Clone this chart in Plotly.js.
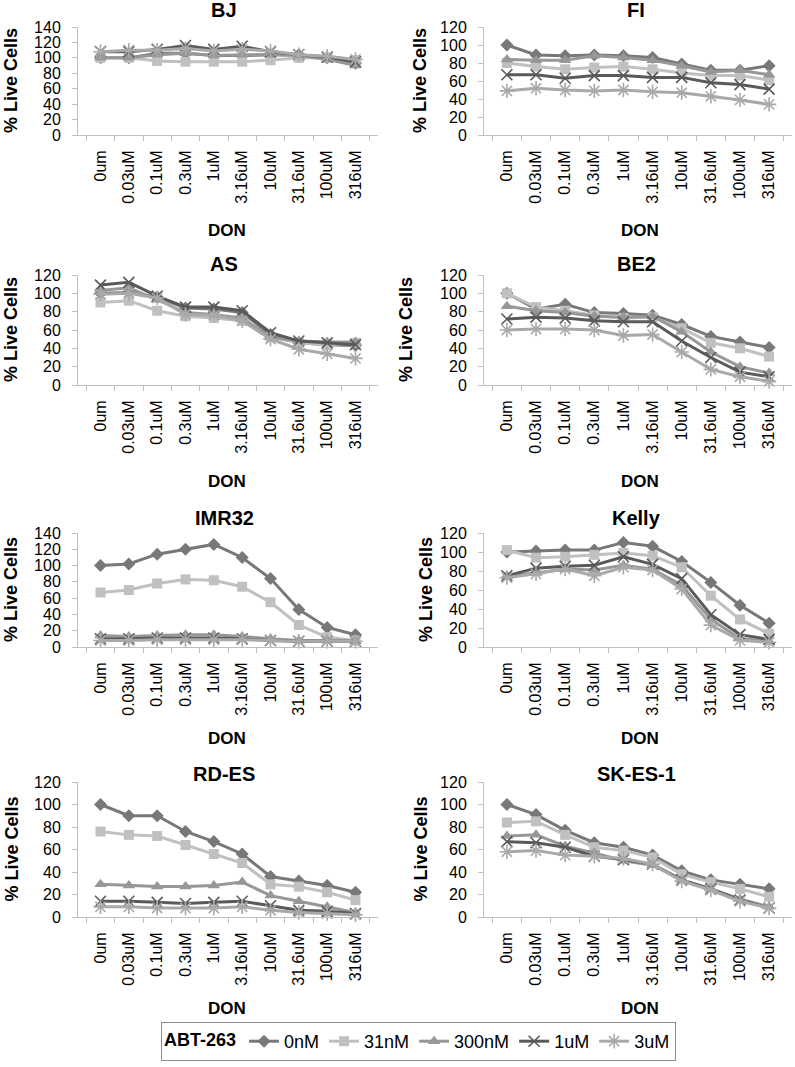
<!DOCTYPE html>
<html><head><meta charset="utf-8">
<script src="https://cdn.plot.ly/plotly-3.0.1.min.js"></script>
<style>html,body{margin:0;padding:0;background:#fff}#chart{width:795px;height:1067px}</style>
</head><body><div id="chart"></div>
<script>
// ---------- DATA ----------
const categories = ['0um','0.03uM','0.1uM','0.3uM','1uM','3.16uM','10uM','31.6uM','100uM','316uM'];
const seriesNames = ['0nM','31nM','300nM','1uM','3uM'];
const panelTitles = ['BJ','FI','AS','BE2','IMR32','Kelly','RD-ES','SK-ES-1'];
const yMax = [140,120,120,120,140,120,120,120];
// rows: 0nM, 31nM, 300nM, 1uM, 3uM
const bj = [
  [100,100,106,106,103,103,104,104,100,93],
  [100,100,96,95,95,95,97,100,100,97],
  [100,100,104,106,103,104,104,103,98,90],
  [108,108,111,116,111,115,108,104,101,95],
  [108,110,110,112,109,111,109,104,102,98]];
const fi = [
  [100,89,88,89,88,86,79,72,72,77],
  [80,76,73,75,76,73,69,66,66,61],
  [84,83,83,88,86,83,77,70,72,67],
  [67,67,63,66,66,64,64,58,56,51],
  [49,52,50,49,50,48,47,43,39,34]];
const as = [
  [100,101,96,84,83,79,55,46,44,43],
  [90,92,81,75,73,70,52,46,44,46],
  [103,106,93,79,77,73,52,48,47,47],
  [109,112,97,85,85,81,57,48,46,44],
  [99,100,95,77,76,70,50,39,34,29]];
const be2 = [
  [100,83,88,79,78,76,66,53,47,41],
  [100,85,81,76,73,74,62,46,40,31],
  [86,81,79,75,74,75,58,36,20,13],
  [72,74,73,70,69,69,48,30,14,9],
  [60,61,61,60,54,55,36,17,9,4]];
const imr32 = [
  [100,102,114,120,126,110,84,46,24,15],
  [67,70,78,83,82,74,55,27,12,8],
  [14,13,14,15,15,13,10,8,8,7],
  [10,10,11,11,11,10,8,7,7,7],
  [8,8,9,9,9,9,8,7,7,7]];
const kelly = [
  [100,101,102,102,110,106,90,68,44,25],
  [102,94,95,97,99,96,84,54,29,14],
  [75,78,82,81,86,82,65,29,9,6],
  [75,83,85,86,95,87,72,34,13,8],
  [73,77,82,75,84,81,61,23,7,5]];
const rdes = [
  [100,90,90,76,67,56,36,32,28,22],
  [76,73,72,64,56,48,29,27,22,15],
  [29,28,27,27,28,31,19,14,9,4],
  [14,14,13,12,13,14,10,6,5,3],
  [9,9,8,8,8,9,6,4,3,2]];
const skes1 = [
  [100,91,77,66,62,55,41,33,29,25],
  [84,85,73,62,59,53,38,31,25,18],
  [72,73,63,57,50,46,33,25,16,9],
  [67,66,62,54,51,47,33,25,15,8],
  [58,59,55,54,52,47,32,24,14,8]];
const panelData = [bj, fi, as, be2, imr32, kelly, rdes, skes1];

// ---------- STYLE / LAYOUT ----------
const W = 795, H = 1067;
const FONT = 'Liberation Sans, Arial, sans-serif';
const colors = ['#787878','#c0c0c0','#979797','#5a5a5a','#a9a9a9'];
const symbols = ['diamond','square','triangle-up','x-thin-open','asterisk-open'];
const msize = [10,10,11,11,12];
const rowsPx = [[27,135],[275,385],[533,647],[782,917]];
const colsPx = [[78,378],[484,792]];
const titleY = [10,264,518,774];
const donY = [230,482,738,1008];
const titleX = [224,636];
const donX = [227,640];
const yTitleX = [11,420,11,406,11,426,11,420];

const py = p => 1 - p / H;
const px = p => p / W;

const traces = [];
const layout = {
  width: W, height: H,
  margin: {l:0, r:0, t:0, b:0},
  paper_bgcolor: '#fff', plot_bgcolor: '#fff',
  font: {family: FONT, color: '#000', size: 16},
  showlegend: true,
  legend: {
    orientation: 'h', x: px(676), xanchor: 'right', y: py(1022), yanchor: 'top',
    bordercolor: '#8c8c8c', borderwidth: 1, bgcolor: '#fff',
    font: {family: FONT, size: 18, color: '#000'},
    title: {text: '<b>ABT-263</b>', side: 'left', font: {family: FONT, size: 18}},
    traceorder: 'normal', itemwidth: 30, tracegroupgap: 0
  },
  annotations: []
};

panelData.forEach((data, i) => {
  const r = Math.floor(i / 2), c = i % 2;
  const ax = i === 0 ? '' : String(i + 1);
  const xa = 'xaxis' + ax, ya = 'yaxis' + ax;
  layout[xa] = {
    type: 'category', domain: [px(colsPx[c][0]), px(colsPx[c][1])], anchor: 'y' + ax,
    categoryorder: 'array', categoryarray: categories,
    tickson: 'boundaries', ticks: 'outside', ticklen: 5, tickcolor: '#bfbfbf', tickwidth: 1,
    showline: true, linecolor: '#bfbfbf', linewidth: 1, showgrid: false, zeroline: false,
    tickangle: -90, ticklabelstandoff: 8,
    tickfont: {family: FONT, size: 16, color: '#000'}, fixedrange: true
  };
  layout[ya] = {
    domain: [py(rowsPx[r][1]), py(rowsPx[r][0])], anchor: 'x' + ax,
    range: [0, yMax[i]], dtick: 20, tick0: 0,
    ticks: 'outside', ticklen: 5, tickcolor: '#bfbfbf', tickwidth: 1,
    showline: true, linecolor: '#bfbfbf', linewidth: 1, showgrid: false, zeroline: false,
    ticklabelstandoff: 8,
    tickfont: {family: FONT, size: 16, color: '#000'}, fixedrange: true
  };
  data.forEach((vals, s) => {
    traces.push({
      type: 'scatter', mode: 'lines+markers', x: categories, y: vals,
      xaxis: 'x' + ax, yaxis: 'y' + ax, name: seriesNames[s],
      showlegend: i === 0,
      line: {color: colors[s], width: 3},
      marker: {symbol: symbols[s], size: msize[s], color: colors[s],
               line: {color: colors[s], width: (s >= 3 ? 1.6 : 0)}},
      cliponaxis: false
    });
  });
  layout.annotations.push(
    {text: '<b>' + panelTitles[i] + '</b>', xref: 'paper', yref: 'paper',
     x: px(titleX[c]), y: py(titleY[r]), xanchor: 'center', yanchor: 'middle',
     showarrow: false, font: {family: FONT, size: 20, color: '#000'}},
    {text: '<b>% Live Cells</b>', xref: 'paper', yref: 'paper', textangle: -90,
     x: px(yTitleX[i]), y: py((rowsPx[r][0] + rowsPx[r][1]) / 2), xanchor: 'center', yanchor: 'middle',
     showarrow: false, font: {family: FONT, size: 18, color: '#000'}},
    {text: '<b>DON</b>', xref: 'paper', yref: 'paper',
     x: px(donX[c]), y: py(donY[r]), xanchor: 'center', yanchor: 'middle',
     showarrow: false, font: {family: FONT, size: 17, color: '#000'}}
  );
});

Plotly.newPlot('chart', traces, layout, {displayModeBar: false, staticPlot: true});
</script></body></html>
